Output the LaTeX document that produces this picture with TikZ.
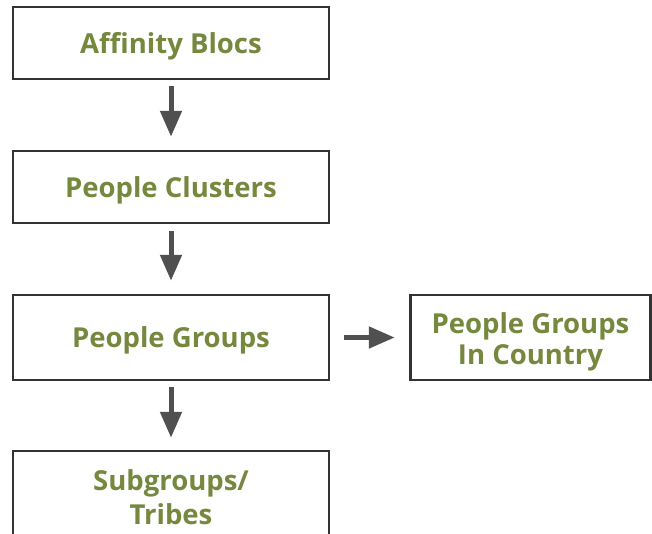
\documentclass[tikz,border=0pt]{standalone}
\usepackage{fontspec}
\setmainfont{Open Sans}
\usetikzlibrary{arrows.meta}
\definecolor{levelgreen}{RGB}{118,135,62}
\definecolor{boxgray}{RGB}{51,51,51}
\definecolor{arrowgray}{RGB}{80,80,80}
\tikzset{
	levelbox/.style={draw=boxgray, line width=2.5pt, fill=white, inner sep=0pt,
		align=center, text=levelgreen, font=\fontsize{27.5}{31}\selectfont\bfseries,
		text height=20pt, text depth=-4pt},
	flowarrow/.style={draw=arrowgray, line width=5pt,
		-{Triangle[width=21pt,length=26pt]}, fill=arrowgray}
}
\begin{document}
\begin{tikzpicture}[x=1pt, y=-1pt]
		%%%%% START %%%%%
		
		\useasboundingbox (0, 0) rectangle (652, 533);
		
		\node[levelbox, minimum width=316pt, minimum height=72pt] (blocs) at (171, 43) {Affinity Blocs};
		\node[levelbox, minimum width=316pt, minimum height=72pt] (clusters) at (171, 187) {People Clusters};
		\node[levelbox, minimum width=316pt, minimum height=85pt] (groups) at (171, 337.5) {People Groups};
		\node[levelbox, minimum width=240pt, minimum height=85pt, text height=53pt, text depth=0pt] (country) at (530.5, 337.5) {People Groups\\In Country};
		\node[levelbox, minimum width=316pt, minimum height=85pt, text height=61pt, text depth=0pt,
			font=\fontsize{27.5}{34}\selectfont\bfseries] (tribes) at (171, 493.5) {Subgroups/\\Tribes};
		
		\draw[flowarrow, shorten <=6pt, shorten >=13pt] (blocs) -- (clusters);
		\draw[flowarrow, shorten <=7pt, shorten >=13pt] (clusters) -- (groups);
		\draw[flowarrow, shorten <=6pt, shorten >=12pt] (groups) -- (tribes);
		\draw[flowarrow, shorten <=14pt, shorten >=14.5pt] (groups) -- (country);
		
		%%%%% END %%%%%
	\end{tikzpicture}
\end{document}
